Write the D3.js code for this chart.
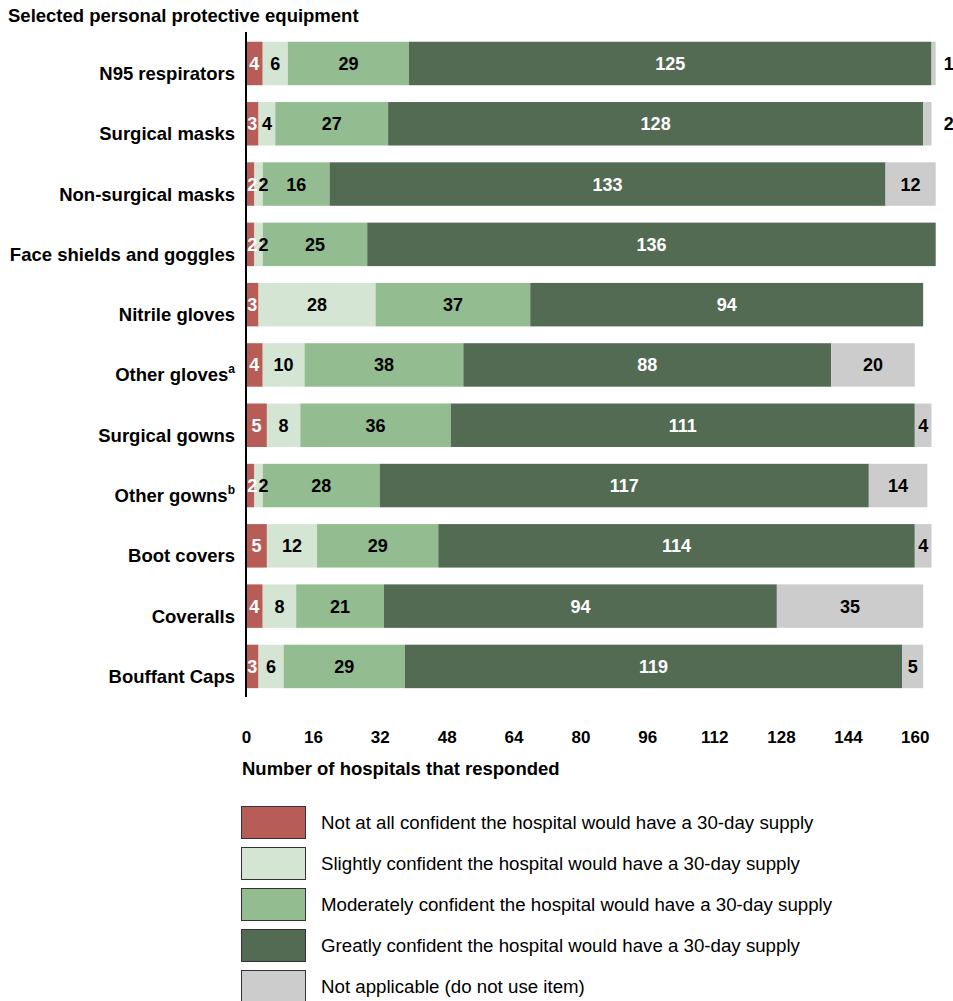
<!DOCTYPE html>
<html><head><meta charset="utf-8">
<script src="https://cdn.jsdelivr.net/npm/d3@7"></script>
<style>
body{margin:0;background:#fff;}
svg{display:block;font-family:"Liberation Sans",Arial,sans-serif;}
</style></head>
<body>
<svg id="chart" width="953" height="1001"></svg>
<script>
const categories = ["N95 respirators","Surgical masks","Non-surgical masks","Face shields and goggles","Nitrile gloves","Other gloves","Surgical gowns","Other gowns","Boot covers","Coveralls","Bouffant Caps"];
const superscripts = ["","","","","","a","","b","","",""];
const notAtAll   = [4,3,2,2,3,4,5,2,5,4,3];
const slightly   = [6,4,2,2,28,10,8,2,12,8,6];
const moderately = [29,27,16,25,37,38,36,28,29,21,29];
const greatly    = [125,128,133,136,94,88,111,117,114,94,119];
const notApplic  = [1,2,12,0,0,20,4,14,4,35,5];
const seriesNames = [
  "Not at all confident the hospital would have a 30-day supply",
  "Slightly confident the hospital would have a 30-day supply",
  "Moderately confident the hospital would have a 30-day supply",
  "Greatly confident the hospital would have a 30-day supply",
  "Not applicable (do not use item)"
];
const colors = ["#b85c58","#d4e5d4","#93bd91","#536b53","#cccccc"];
const textColors = ["#fff","#000","#000","#fff","#000"];
const tickValues = [0,16,32,48,64,80,96,112,128,144,160];
const title = "Selected personal protective equipment";
const axisTitle = "Number of hospitals that responded";

const series = [notAtAll, slightly, moderately, greatly, notApplic];
const keys = ["s0","s1","s2","s3","s4"];
const table = categories.map((c,i)=>{const o={cat:c};keys.forEach((k,j)=>o[k]=series[j][i]);return o;});
const stacked = d3.stack().keys(keys)(table);

const svg = d3.select("#chart");
const x = d3.scaleLinear().domain([0,165]).range([246,935.7]);
const y = d3.scaleBand().domain(categories).range([33.3,696.6]).paddingInner(0.279).paddingOuter(0.14);

svg.append("text").attr("x",8).attr("y",22).attr("font-size",18.5).attr("font-weight","bold").text(title);

const g = svg.append("g");
stacked.forEach((s,si)=>{
  g.selectAll(null).data(s).enter().append("rect")
    .attr("x",d=>x(d[0])).attr("width",d=>x(d[1])-x(d[0]))
    .attr("y",d=>y(d.data.cat)).attr("height",y.bandwidth())
    .attr("fill",colors[si]);
});
// value labels
stacked.forEach((s,si)=>{
  s.forEach(d=>{
    const v = d[1]-d[0];
    if(v<=0) return;
    const w = x(d[1])-x(d[0]);
    const cy = y(d.data.cat)+y.bandwidth()/2;
    let tx = (x(d[0])+x(d[1]))/2, anchor="middle", fill=textColors[si];
    if(si===4 && w<12){ tx = x(165)+8; anchor="start"; fill="#000"; }
    else if(w<12){ tx += (si===0?2:5); }
    g.append("text").attr("x",tx).attr("y",cy).attr("dy","0.36em")
      .attr("text-anchor",anchor).attr("font-size",18).attr("font-weight","bold")
      .attr("fill",fill).text(v);
  });
});
// category labels
categories.forEach((c,i)=>{
  const t = svg.append("text").attr("x",235).attr("y",y(c)+y.bandwidth()/2+16.5)
    .attr("text-anchor","end").attr("font-size",18.5).attr("font-weight","bold").text(c);
  if(superscripts[i]) t.append("tspan").attr("font-size",12).attr("dy",-8).text(superscripts[i]);
});
// axis line
svg.append("line").attr("x1",246).attr("x2",246).attr("y1",32).attr("y2",697).attr("stroke","#000").attr("stroke-width",2);
// x axis ticks
const xAxis = d3.axisBottom(x).tickValues(tickValues).tickSize(0).tickPadding(0);
const ax = svg.append("g").attr("transform","translate(0,743)").call(xAxis);
ax.select(".domain").remove();
ax.selectAll("text").attr("font-size",17).attr("font-weight","bold").attr("fill","#000")
  .attr("font-family","'Liberation Sans',Arial,sans-serif").attr("dy","0").attr("y",0);
svg.append("text").attr("x",242).attr("y",775).attr("font-size",18.5).attr("font-weight","bold").text(axisTitle);

// legend
const lg = svg.append("g");
seriesNames.forEach((n,i)=>{
  const ly = 806 + i*41;
  lg.append("rect").attr("x",241.5).attr("y",ly+0.5).attr("width",64).attr("height",32)
    .attr("fill",colors[i]).attr("stroke","#333").attr("stroke-width",1);
  lg.append("text").attr("x",321).attr("y",ly+23).attr("font-size",18.7).text(n);
});
</script>
</body></html>
